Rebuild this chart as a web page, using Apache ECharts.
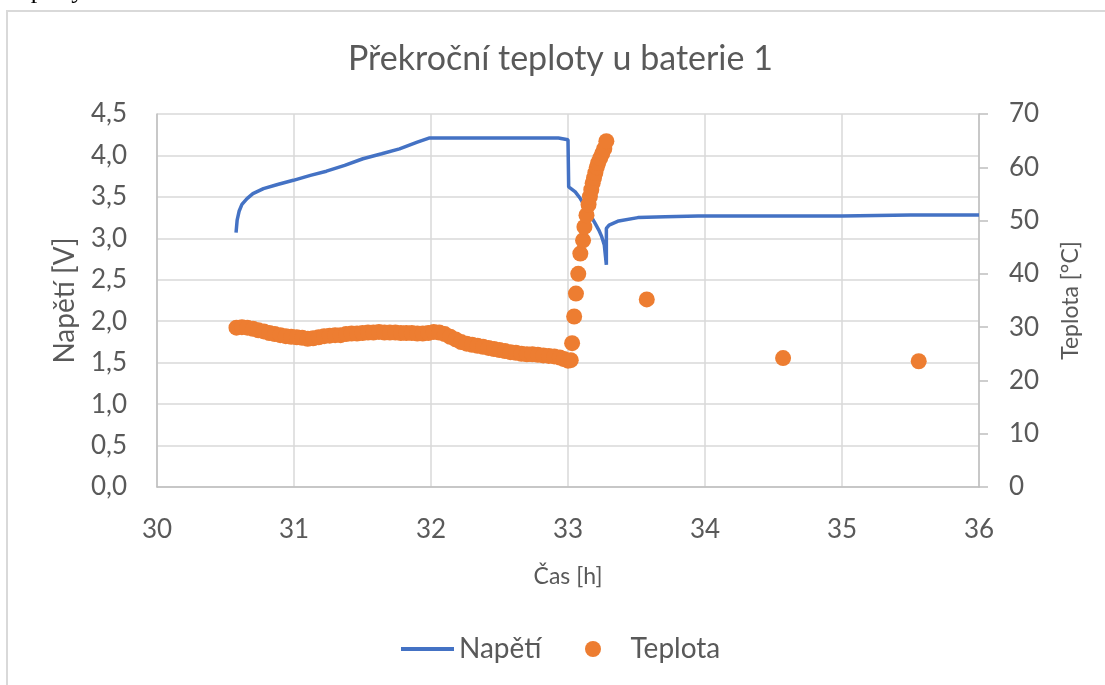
<!DOCTYPE html>
<html>
<head>
<meta charset="utf-8">
<script src="https://cdn.jsdelivr.net/npm/echarts@6/dist/echarts.min.js"></script>
<style>
  html, body { margin: 0; padding: 0; background: #fff; }
  #chart { width: 1105px; height: 685px; }
</style>
</head>
<body>
<div id="chart"></div>
<script>
// casy a hodnoty napeti
const casNapeti = [30.577, 30.585, 30.60, 30.62, 30.657, 30.70, 30.777, 30.88, 30.995, 31.12,
  31.237, 31.37, 31.503, 31.64, 31.77, 31.90, 31.985, 32.2, 32.5, 32.93,
  32.94, 33.00, 33.005, 33.053, 33.09, 33.126, 33.16, 33.198, 33.225, 33.246,
  33.265, 33.28, 33.28, 33.30, 33.37, 33.51, 33.71, 33.95, 34.5, 35.0, 35.5, 36.0]
const napeti = [3.07, 3.22, 3.33, 3.41, 3.48, 3.54, 3.60, 3.65, 3.70, 3.76,
  3.81, 3.88, 3.96, 4.02, 4.08, 4.16, 4.21, 4.21, 4.21, 4.21,
  4.19, 4.19, 3.62, 3.56, 3.48, 3.38, 3.29, 3.18, 3.10, 3.02,
  2.92, 2.68, 3.12, 3.16, 3.21, 3.25, 3.26, 3.27, 3.27, 3.27, 3.28, 3.28]

// casy a hodnoty teploty
const casTeploty = [30.58, 30.62, 30.66, 30.70, 30.74, 30.78, 30.82, 30.86, 30.90, 30.94,
  30.98, 31.02, 31.06, 31.10, 31.14, 31.18, 31.22, 31.26, 31.30, 31.34,
  31.38, 31.42, 31.46, 31.50, 31.54, 31.58, 31.62, 31.66, 31.70, 31.74,
  31.78, 31.82, 31.86, 31.90, 31.94, 31.98, 32.02, 32.06, 32.10, 32.14,
  32.18, 32.22, 32.26, 32.30, 32.34, 32.38, 32.42, 32.46, 32.50, 32.54,
  32.58, 32.62, 32.66, 32.70, 32.74, 32.78, 32.82, 32.86, 32.90, 32.94,
  32.97, 33.00, 33.02, 33.03, 33.045, 33.058, 33.075, 33.09, 33.11, 33.12,
  33.135, 33.15, 33.16, 33.17, 33.18, 33.19, 33.20, 33.21, 33.22, 33.235,
  33.25, 33.265, 33.28, 33.575, 34.57, 35.56]
const teplota = [29.9, 30.0, 29.9, 29.7, 29.4, 29.2, 28.9, 28.7, 28.5, 28.3,
  28.2, 28.1, 28.0, 27.8, 27.9, 28.1, 28.3, 28.4, 28.5, 28.5,
  28.7, 28.8, 28.8, 28.9, 29.0, 29.0, 29.1, 29.0, 29.0, 29.0,
  28.9, 28.9, 28.9, 28.8, 28.8, 28.9, 29.1, 29.0, 28.7, 28.2,
  27.7, 27.2, 26.9, 26.7, 26.5, 26.3, 26.1, 25.9, 25.7, 25.5,
  25.3, 25.2, 25.0, 24.9, 24.9, 24.8, 24.7, 24.6, 24.5, 24.3,
  24.0, 23.7, 23.8, 27.0, 32.0, 36.3, 40.0, 43.8, 46.3, 48.8,
  51.0, 53.0, 54.5, 55.8, 57.0, 58.0, 59.0, 60.0, 60.8, 61.7,
  62.6, 63.5, 64.9, 35.2, 24.2, 23.6]

const FONT = 'Lato'
const GRAY = '#595959'

const chart = echarts.init(document.getElementById('chart'))

chart.setOption({
  animation: false,
  textStyle: { fontFamily: FONT, color: GRAY },
  title: {
    text: 'Překroční teploty u baterie 1',
    left: 343,
    top: 37,
    textStyle: { fontFamily: FONT, fontSize: 34, fontWeight: 'normal', color: GRAY }
  },
  graphic: [{
    type: 'rect',
    shape: { x: 7, y: 11, width: 1120, height: 700 },
    style: { fill: 'none', stroke: '#d9d9d9', lineWidth: 2 },
    silent: true
  }, {
    type: 'text',
    left: 12,
    top: -22,
    style: { text: 'teploty', font: '26px "Liberation Serif"', fill: '#000' },
    silent: true
  }],
  legend: [{
    data: [{ name: 'Napětí', itemStyle: { opacity: 0 } }],
    left: 394,
    top: 630,
    itemWidth: 53,
    itemHeight: 16,
    lineStyle: { width: 4 },
    textStyle: { fontFamily: FONT, fontSize: 28, color: GRAY }
  }, {
    data: [{ name: 'Teplota', icon: 'circle' }],
    left: 580,
    top: 630,
    itemWidth: 53,
    itemHeight: 16,
    textStyle: { fontFamily: FONT, fontSize: 28, color: GRAY, padding: [0, 0, 0, 6] }
  }],
  grid: { left: 157, right: 126, top: 114, bottom: 198 },
  xAxis: {
    type: 'value',
    min: 30,
    max: 36,
    interval: 1,
    name: 'Čas [h]',
    nameLocation: 'middle',
    nameGap: 78,
    nameTextStyle: { fontSize: 23, color: GRAY },
    axisLine: { lineStyle: { color: '#bfbfbf', width: 1.5 } },
    axisTick: { show: false },
    axisLabel: { fontSize: 26, color: GRAY, margin: 30 },
    splitLine: { lineStyle: { color: '#d9d9d9', width: 1.5 } }
  },
  yAxis: [{
    type: 'value',
    min: 0,
    max: 4.5,
    interval: 0.5,
    name: 'Napětí [V]',
    nameLocation: 'middle',
    nameRotate: 90,
    nameGap: 78,
    nameTextStyle: { fontSize: 28, color: GRAY },
    axisLine: { show: true, lineStyle: { color: '#bfbfbf', width: 1.5 } },
    axisTick: { show: false },
    axisLabel: {
      fontSize: 26,
      color: GRAY,
      margin: 30,
      formatter: v => v.toFixed(1).replace('.', ',')
    },
    splitLine: { lineStyle: { color: '#d9d9d9', width: 1.5 } }
  }, {
    type: 'value',
    min: 0,
    max: 70,
    interval: 10,
    position: 'right',
    name: 'Teplota [°C]',
    nameLocation: 'middle',
    nameRotate: 90,
    nameGap: 80,
    nameTextStyle: { fontSize: 23, color: GRAY },
    axisLine: { show: true, lineStyle: { color: '#bfbfbf', width: 1.5 } },
    axisTick: { show: true, length: 9, lineStyle: { color: '#bfbfbf', width: 1.5 } },
    axisLabel: { fontSize: 26, color: GRAY, margin: 30 },
    splitLine: { show: false }
  }],
  series: [{
    name: 'Napětí',
    type: 'line',
    yAxisIndex: 0,
    showSymbol: false,
    symbol: 'none',
    color: '#4472C4',
    lineStyle: { width: 3.5, color: '#4472C4' },
    data: casNapeti.map((t, i) => [t, napeti[i]]),
    z: 2
  }, {
    name: 'Teplota',
    type: 'scatter',
    yAxisIndex: 1,
    symbolSize: 16,
    itemStyle: { color: '#ED7D31', opacity: 1 },
    data: casTeploty.map((t, i) => [t, teplota[i]]),
    z: 3
  }]
})
</script>
</body>
</html>
